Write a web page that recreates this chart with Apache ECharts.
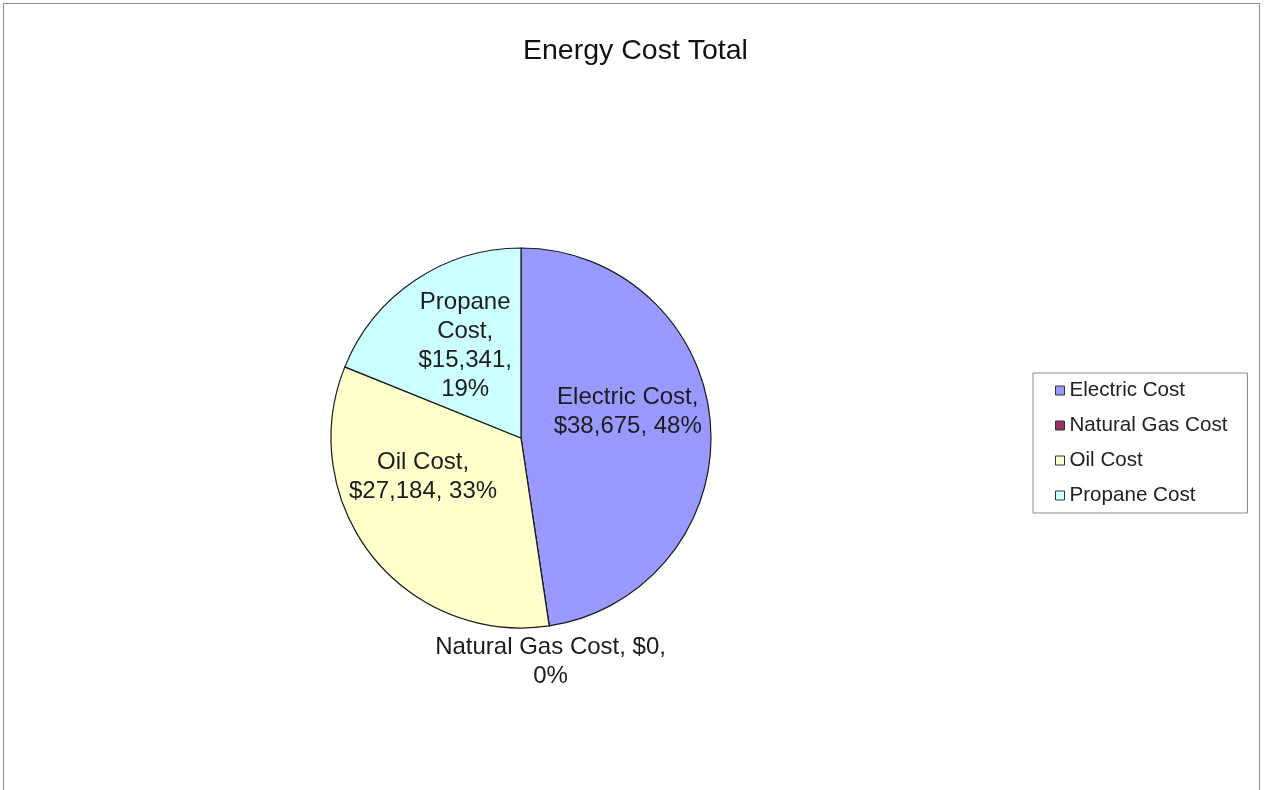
<!DOCTYPE html>
<html>
<head>
<meta charset="utf-8">
<title>Energy Cost Total</title>
<script src="https://cdn.jsdelivr.net/npm/echarts@6/dist/echarts.min.js"></script>
<style>
  html, body { margin: 0; padding: 0; background: #ffffff; overflow: hidden; }
  #frame {
    position: absolute; left: 3px; top: 3px; width: 1257px; height: 820px;
    border: 1.5px solid #8a8a8a; box-sizing: border-box;
  }
  #chart { position: absolute; left: 0; top: 0; width: 1264px; height: 790px; }
</style>
</head>
<body>
<div id="frame"></div>
<div id="chart"></div>
<script>
// Energy cost breakdown
const chartTitle = 'Energy Cost Total';
const categories = ['Electric Cost', 'Natural Gas Cost', 'Oil Cost', 'Propane Cost'];
const costs = [38675, 0, 27184, 15341];
const sliceColors = ['#9999ff', '#993366', '#ffffcc', '#ccffff'];

// label placement tweaks (dx, dy) and number of words on each label line
const labelShift = [[9, -19], [15, 127], [-21, -22], [-1, -11]];
const labelLineWords = [[2, 2], [4, 1], [2, 2], [1, 1, 1, 1]];

const FONT = '"Liberation Sans", Arial, sans-serif';

function money(v) {
  return '$' + v.toLocaleString('en-US');
}

function labelText(p) {
  const words = (p.name + ', ' + money(p.value) + ', ' + Math.round(p.percent) + '%').split(' ');
  const lines = [];
  let k = 0;
  labelLineWords[p.dataIndex].forEach(n => {
    lines.push(words.slice(k, k + n).join(' '));
    k += n;
  });
  return lines.join('\n');
}

const data = categories.map((name, i) => ({
  name: name,
  value: costs[i],
  itemStyle: { color: sliceColors[i] }
}));

const chart = echarts.init(document.getElementById('chart'), null, { renderer: 'canvas' });

chart.setOption({
  backgroundColor: 'transparent',
  animation: false,
  title: {
    text: chartTitle,
    left: 518,
    top: 32,
    textStyle: { fontFamily: FONT, fontSize: 28.5, fontWeight: 'normal', color: '#111' }
  },
  legend: {
    orient: 'vertical',
    left: 1033,
    top: 373,
    padding: [7, 20, 7, 22],
    itemGap: 14,
    itemWidth: 9,
    itemHeight: 9,
    icon: 'rect',
    borderColor: '#8a8a8a',
    borderWidth: 1,
    borderRadius: 0,
    data: categories,
    itemStyle: { borderColor: '#333', borderWidth: 1 },
    textStyle: { fontFamily: FONT, fontSize: 20.6, color: '#222' }
  },
  series: [{
    type: 'pie',
    center: [521, 438],
    radius: [0, 190],
    startAngle: 90,
    clockwise: true,
    avoidLabelOverlap: false,
    minShowLabelAngle: 0,
    itemStyle: { borderColor: '#1a1a1a', borderWidth: 1.2 },
    emphasis: { disabled: true },
    label: {
      show: true,
      position: 'inside',
      align: 'center',
      fontFamily: FONT,
      fontSize: 24,
      lineHeight: 29,
      color: '#1c1c1c',
      formatter: labelText
    },
    labelLine: { show: false },
    labelLayout: p => ({ dx: labelShift[p.dataIndex][0], dy: labelShift[p.dataIndex][1] }),
    data: data
  }]
});
</script>
</body>
</html>
